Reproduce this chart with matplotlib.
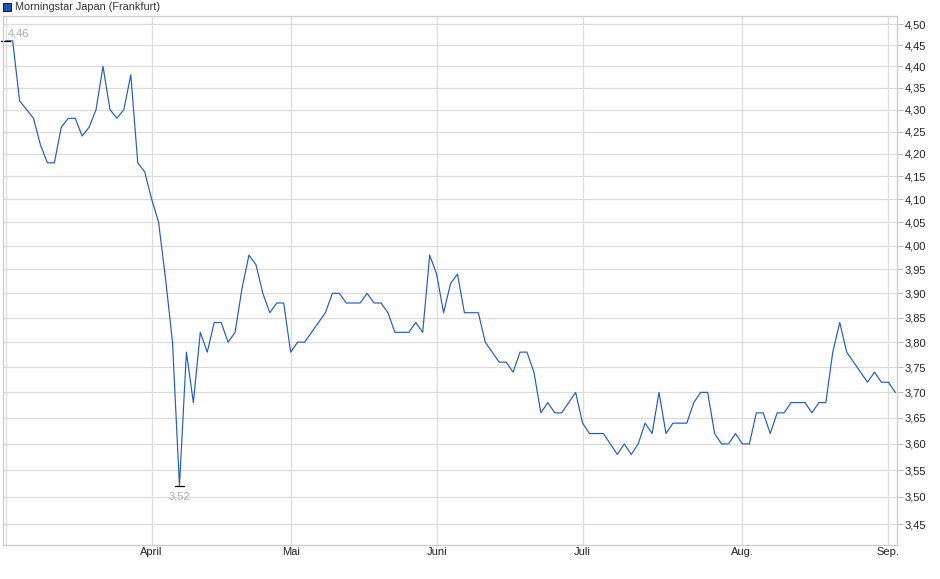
import matplotlib
matplotlib.use("Agg")
import matplotlib.pyplot as plt
from matplotlib.ticker import FixedLocator, NullLocator, FuncFormatter
from matplotlib.patches import Rectangle
import pandas as pd
import numpy as np

plt.rcParams['font.family'] = ['Liberation Sans', 'DejaVu Sans']

# trading days Frankfurt, 03.03.2025 - 02.09.2025
holidays = ['2025-04-18', '2025-04-21', '2025-05-01']
dates = pd.bdate_range('2025-03-03', '2025-09-02')
dates = dates[~dates.isin(pd.to_datetime(holidays))]

prices = [
    # Maerz
    4.46, 4.46, 4.32, 4.30, 4.28, 4.22, 4.18, 4.18, 4.26, 4.28,
    4.28, 4.24, 4.26, 4.30, 4.40, 4.30, 4.28, 4.30, 4.38, 4.18,
    4.16,
    # April
    4.10, 4.05, 3.93, 3.80, 3.52, 3.78, 3.68, 3.82, 3.78, 3.84,
    3.84, 3.80, 3.82, 3.91, 3.98, 3.96, 3.90, 3.86, 3.88, 3.88,
    # Mai
    3.78, 3.80, 3.80, 3.82, 3.84, 3.86, 3.90, 3.90, 3.88, 3.88,
    3.88, 3.90, 3.88, 3.88, 3.86, 3.82, 3.82, 3.82, 3.84, 3.82,
    3.98,
    # Juni
    3.94, 3.86, 3.92, 3.94, 3.86, 3.86, 3.86, 3.80, 3.78, 3.76,
    3.76, 3.74, 3.78, 3.78, 3.74, 3.66, 3.68, 3.66, 3.66, 3.68,
    3.70,
    # Juli
    3.64, 3.62, 3.62, 3.62, 3.60, 3.58, 3.60, 3.58, 3.60, 3.64,
    3.62, 3.70, 3.62, 3.64, 3.64, 3.64, 3.68, 3.70, 3.70, 3.62,
    3.60, 3.60, 3.62,
    # August
    3.60, 3.60, 3.66, 3.66, 3.62, 3.66, 3.66, 3.68, 3.68, 3.68,
    3.66, 3.68, 3.68, 3.78, 3.84, 3.78, 3.76, 3.74, 3.72, 3.74,
    3.72,
    # September
    3.72, 3.70,
]

month_names = ['', 'April', 'Mai', 'Juni', 'Juli', 'Aug.', 'Sep.']
yticks = [3.45, 3.50, 3.55, 3.60, 3.65, 3.70, 3.75, 3.80, 3.85, 3.90,
          3.95, 4.00, 4.05, 4.10, 4.15, 4.20, 4.25, 4.30, 4.35, 4.40,
          4.45, 4.50]

df = pd.DataFrame({'date': dates, 'price': prices})
x = np.arange(len(df))
month_pos = df.groupby(df['date'].dt.to_period('M')).apply(lambda g: g.index[0]).values

W, H = 940, 579
fig = plt.figure(figsize=(W / 100, H / 100), dpi=100)
ax = fig.add_axes([2.5 / W, 1 - 545 / H, (897 - 2.5) / W, (545 - 16) / H])

grid_col = '#dcdcdc'
ax.set_yscale('log')
ax.set_ylim(3.4118, 4.5192)
ax.set_xlim(-0.46, 128.24)

ax.yaxis.set_major_locator(FixedLocator(yticks))
ax.yaxis.set_minor_locator(NullLocator())
ax.yaxis.set_major_formatter(FuncFormatter(lambda v, p: f'{v:.2f}'.replace('.', ',')))
ax.yaxis.tick_right()
ax.set_xticks(month_pos)
ax.set_xticklabels(month_names)
ax.tick_params(axis='y', length=4, width=0.8, color='#bbbbbb', labelsize=8,
               labelcolor='#222222', pad=1.5)
ax.tick_params(axis='x', length=0, labelsize=8, labelcolor='#222222', pad=1.5)
ax.grid(True, color=grid_col, linewidth=0.9)
ax.set_axisbelow(True)
for s in ax.spines.values():
    s.set_color('#cccccc')
    s.set_linewidth(0.9)

ax.plot(x, df['price'], color='#1f5dc6', linewidth=0.85)

# high / low markers
i_hi = int(np.argmax(prices))
i_lo = int(np.argmin(prices))
for i in [i_hi, i_lo]:
    ax.plot([i - 0.7, i + 0.65], [prices[i], prices[i]], color='black',
            linewidth=0.9, clip_on=False)
ax.annotate(f'{prices[i_hi]:.2f}'.replace('.', ','), (i_hi, prices[i_hi]),
            xytext=(1.5, 5.5), textcoords='offset points', ha='left', va='center',
            fontsize=8, color='#aaaaaa')
ax.annotate(f'{prices[i_lo]:.2f}'.replace('.', ','), (i_lo, prices[i_lo]),
            xytext=(0, -7.5), textcoords='offset points', ha='center', va='center',
            fontsize=8, color='#aaaaaa')

# legend
fig.patches.append(Rectangle((3 / W, 1 - 11 / H), 8 / W, 8 / H, transform=fig.transFigure,
                             facecolor='#1b52bb', edgecolor='#222222', linewidth=0.8))
fig.text(15 / W, 1 - 6.5 / H, 'Morningstar Japan (Frankfurt)', fontsize=7.8,
         color='#333333', va='center', ha='left')

fig.savefig('out.png', dpi=100)
